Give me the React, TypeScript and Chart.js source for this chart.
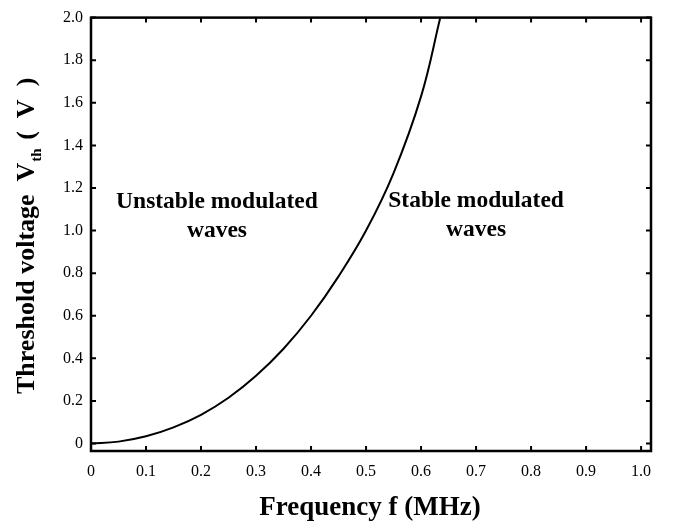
import React, { useEffect, useRef } from "react";
import { Chart, registerables } from "chart.js";

Chart.register(...registerables);

// Data
const frequency = [0, 0.05, 0.1, 0.15, 0.2, 0.25, 0.3, 0.35, 0.4, 0.45, 0.5, 0.55, 0.6, 0.635];
const thresholdVoltage = [0, 0.009, 0.034, 0.076, 0.135, 0.215, 0.318, 0.445, 0.6, 0.785, 1.0, 1.27, 1.63, 2.0];

const xTicks = [0, 0.1, 0.2, 0.3, 0.4, 0.5, 0.6, 0.7, 0.8, 0.9, 1.0];
const xTickLabels = ["0", "0.1", "0.2", "0.3", "0.4", "0.5", "0.6", "0.7", "0.8", "0.9", "1.0"];
const yTicks = [0, 0.2, 0.4, 0.6, 0.8, 1.0, 1.2, 1.4, 1.6, 1.8, 2.0];
const yTickLabels = ["0", "0.2", "0.4", "0.6", "0.8", "1.0", "1.2", "1.4", "1.6", "1.8", "2.0"];

const regionLabels = [
  { lines: ["Unstable modulated", "waves"], f: 0.229, v: 1.106 },
  { lines: ["Stable modulated", "waves"], f: 0.7, v: 1.11 },
];

const SERIF = '"Liberation Serif", "Times New Roman", serif';

const framePlugin = {
  id: "frameAndTitles",
  afterDraw(chart: any) {
    const { ctx, chartArea, scales } = chart;
    const { left, right, top, bottom } = chartArea;
    ctx.save();
    ctx.strokeStyle = "#000";
    ctx.lineWidth = 2.5;
    ctx.strokeRect(left, top, right - left, bottom - top);
    ctx.lineWidth = 2;
    const tl = 5;
    xTicks.forEach((v) => {
      const px = scales.x.getPixelForValue(v);
      ctx.beginPath();
      ctx.moveTo(px, bottom);
      ctx.lineTo(px, bottom - tl);
      ctx.moveTo(px, top);
      ctx.lineTo(px, top + tl);
      ctx.stroke();
    });
    yTicks.forEach((v) => {
      const py = scales.y.getPixelForValue(v);
      ctx.beginPath();
      ctx.moveTo(left, py);
      ctx.lineTo(left + tl, py);
      ctx.moveTo(right, py);
      ctx.lineTo(right - tl, py);
      ctx.stroke();
    });

    ctx.fillStyle = "#000";
    ctx.font = `bold 23.5px ${SERIF}`;
    ctx.textAlign = "center";
    ctx.textBaseline = "alphabetic";
    regionLabels.forEach((r) => {
      const px = scales.x.getPixelForValue(r.f);
      const py = scales.y.getPixelForValue(r.v);
      r.lines.forEach((line, i) => {
        ctx.fillText(line, px, py + i * 29);
      });
    });

    ctx.font = `bold 27px ${SERIF}`;
    ctx.textAlign = "center";
    ctx.fillText("Frequency f (MHz)", (left + right) / 2 - 1, 515);

    ctx.translate(34, 394);
    ctx.rotate(-Math.PI / 2);
    ctx.textAlign = "left";
    let x = 0;
    const main = `bold 26px ${SERIF}`;
    const sub = `bold 15px ${SERIF}`;
    ctx.font = main;
    const p1 = "Threshold voltage  V";
    ctx.fillText(p1, x, 0);
    x += ctx.measureText(p1).width + 1;
    ctx.font = sub;
    ctx.fillText("th", x, 7);
    x += ctx.measureText("th").width + 2;
    ctx.font = main;
    ctx.fillText(" (  V  )", x, 0);
    ctx.restore();
  },
};

export default function App() {
  const ref = useRef<HTMLCanvasElement | null>(null);
  useEffect(() => {
    if (!ref.current) return;
    const chart = new Chart(ref.current, {
      type: "line",
      data: {
        datasets: [
          {
            data: frequency.map((f, i) => ({ x: f, y: thresholdVoltage[i] })),
            borderColor: "#000",
            borderWidth: 2,
            pointRadius: 0,
            fill: false,
            tension: 0.4,
          },
        ],
      },
      options: {
        responsive: false,
        animation: false,
        devicePixelRatio: 1,
        layout: { padding: { top: 9, right: 26, left: 0, bottom: 0 } },
        plugins: { legend: { display: false }, tooltip: { enabled: false } },
        scales: {
          x: {
            type: "linear",
            min: 0,
            max: 1.018,
            grid: { display: false, drawTicks: false },
            border: { display: false },
            afterBuildTicks: (s: any) => {
              s.ticks = xTicks.map((v) => ({ value: v }));
            },
            afterFit: (s: any) => {
              s.height = 76;
            },
            ticks: {
              padding: 11,
              maxRotation: 0,
              autoSkip: false,
              color: "#000",
              font: { family: SERIF, size: 16 },
              callback: (_v: any, i: number) => xTickLabels[i],
            },
          },
          y: {
            type: "linear",
            min: -0.035,
            max: 2.0,
            grid: { display: false, drawTicks: false },
            border: { display: false },
            afterBuildTicks: (s: any) => {
              s.ticks = yTicks.map((v) => ({ value: v }));
            },
            afterFit: (s: any) => {
              s.width = 91;
            },
            ticks: {
              padding: 8,
              autoSkip: false,
              color: "#000",
              font: { family: SERIF, size: 16 },
              callback: (_v: any, i: number) => yTickLabels[i],
            },
          },
        },
      },
      plugins: [framePlugin],
    } as any);
    return () => chart.destroy();
  }, []);
  return (
    <div style={{ position: "fixed", left: 0, top: 0, width: 677, height: 527, background: "#fff" }}>
      <canvas ref={ref} width={677} height={527} />
    </div>
  );
}
